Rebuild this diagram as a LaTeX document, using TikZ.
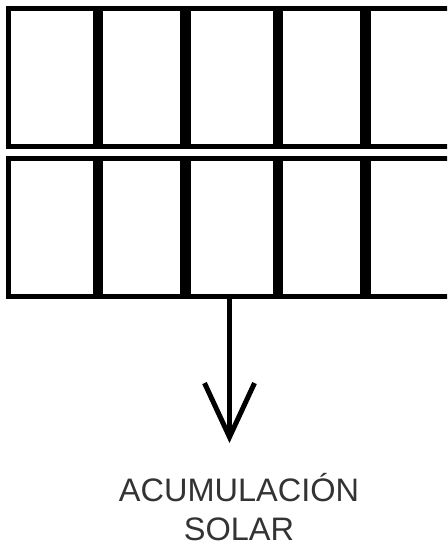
\documentclass[tikz,border=0pt]{standalone}
\usepackage{fontspec}
\setmainfont{Liberation Sans}
\usetikzlibrary{arrows.meta}
\usetikzlibrary{positioning}

\begin{document}
\begin{tikzpicture}[x=1pt, y=-1pt,
    frame/.style={line width=5pt},
    caption/.style={anchor=base, inner sep=0pt, text=black!80, font=\fontsize{32.5}{45}\selectfont}]

  \useasboundingbox (0,0) rectangle (447,551);
  \clip (0,0) rectangle (447,551);

	\def\w{455};
	\def\h{138};

%panels
    \foreach \dy in {8.5, 158} {
         \draw[frame] (8.5,\dy) rectangle (\w,\dy+\h);
         \foreach \x/\lw in {98/10, 185.5/11, 278/10, 365.5/11} {
              \draw[line width=\lw pt] (\x,\dy) -- (\x,\dy+\h);
         }
    }

%arrow
    \coordinate (src) at (229.5,296);
    \coordinate (tip) at (229.5,443);
    \draw[line width=5pt, -{Straight Barb[length=54pt, width=50pt]}] (src) -- (tip);

%text
    \node[caption] (acum) at (239,501) {ACUMULACIÓN};
    \node[caption] (solar) at (239,540) {SOLAR};

\end{tikzpicture}
\end{document}
